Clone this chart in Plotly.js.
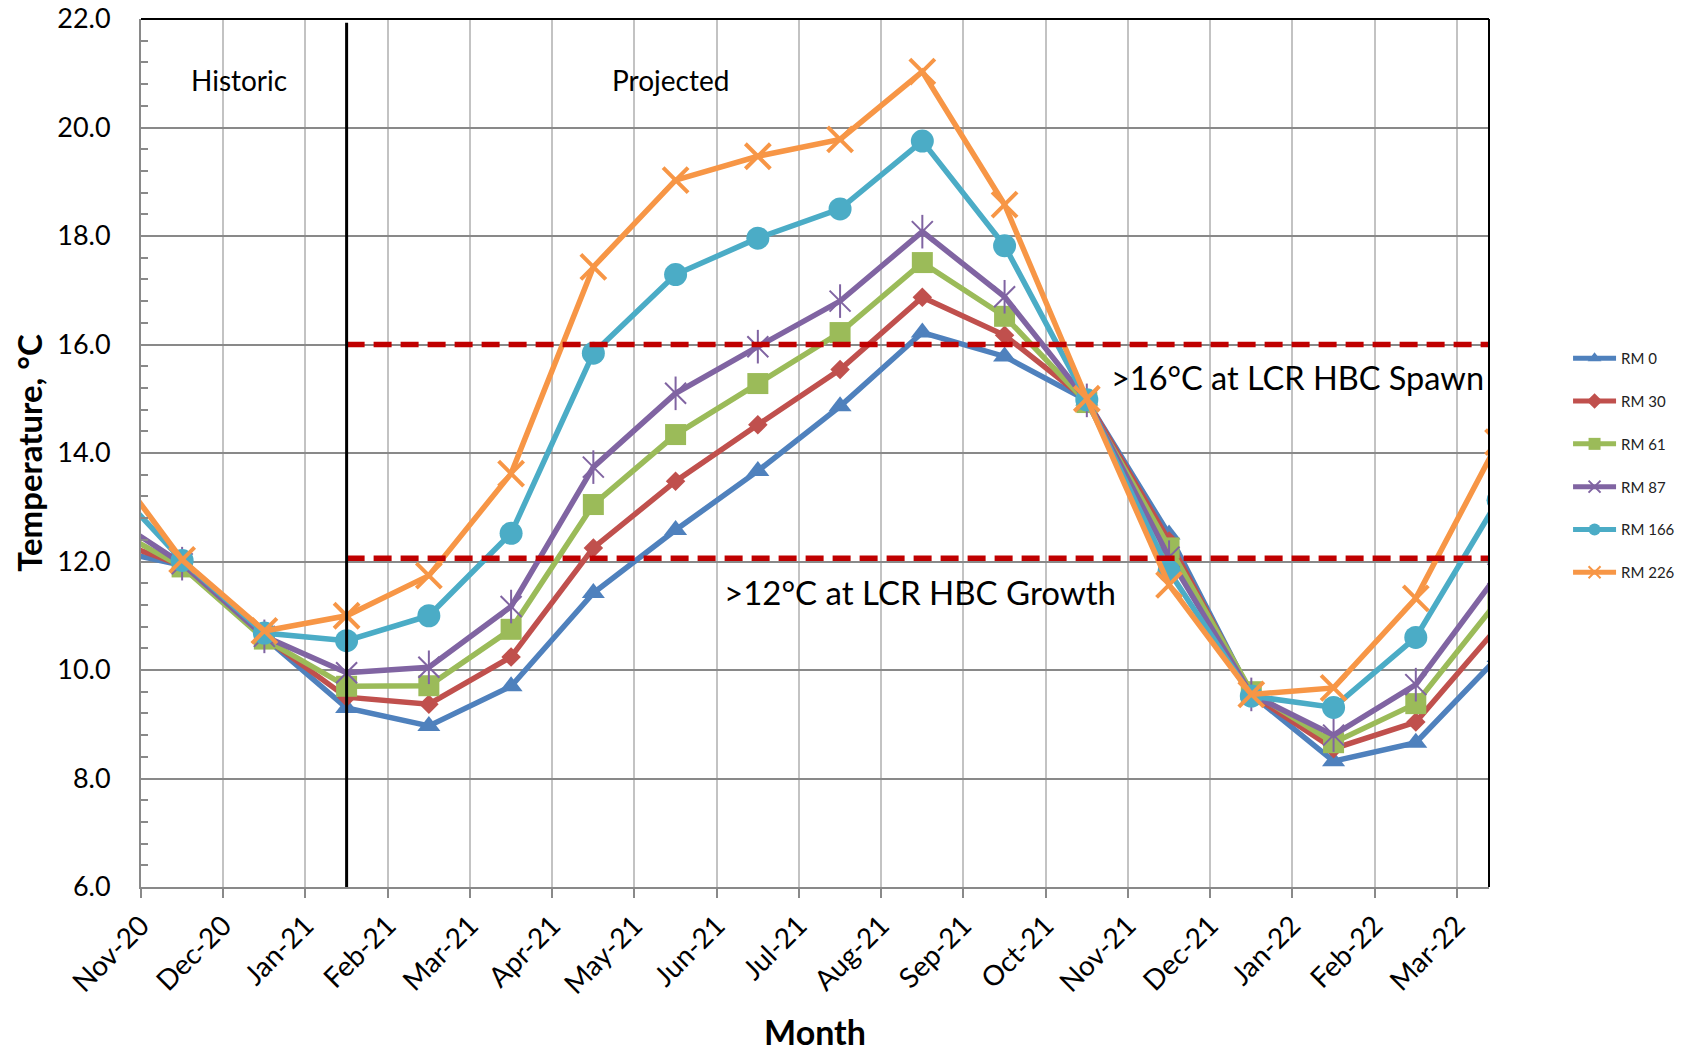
<!DOCTYPE html>
<html>
<head>
<meta charset="utf-8">
<script src="https://cdn.plot.ly/plotly-3.0.1.min.js"></script>
<style>html,body{margin:0;padding:0;background:#fff;}#chart{width:1683px;height:1052px;}</style>
</head>
<body>
<div id="chart"></div>
<script>
// Axis tick labels (month starts)
const tickMonths = ['Nov-20','Dec-20','Jan-21','Feb-21','Mar-21','Apr-21','May-21','Jun-21','Jul-21','Aug-21','Sep-21','Oct-21','Nov-21','Dec-21','Jan-22','Feb-22','Mar-22'];
// Mid-month samples
const sampleMonths = ['Oct-20','Nov-20','Dec-20','Jan-21','Feb-21','Mar-21','Apr-21','May-21','Jun-21','Jul-21','Aug-21','Sep-21','Oct-21','Nov-21','Dec-21','Jan-22','Feb-22','Mar-22'];

const rm0   = [12.26,11.93,10.60, 9.30, 8.97, 9.70,11.42,12.58,13.67,14.86,16.22,15.78,14.97,12.50, 9.55, 8.32, 8.66,10.24];
const rm30  = [12.47,11.93,10.60, 9.50, 9.37,10.24,12.25,13.48,14.52,15.54,16.87,16.17,14.97,12.38, 9.55, 8.55, 9.04,10.80];
const rm61  = [12.74,11.90,10.57, 9.70, 9.71,10.75,13.05,14.34,15.28,16.22,17.51,16.52,14.93,12.25, 9.60, 8.66, 9.38,11.28];
const rm87  = [12.95,11.96,10.62, 9.95,10.05,11.17,13.74,15.10,15.96,16.80,18.08,16.88,14.97,12.08, 9.55, 8.80, 9.73,11.77];
const rm166 = [13.65,12.02,10.68,10.54,11.00,12.52,15.84,17.29,17.96,18.50,19.75,17.82,14.98,11.82, 9.52, 9.31,10.60,13.13];
const rm226 = [14.08,12.03,10.72,11.00,11.74,13.62,17.43,19.03,19.47,19.78,21.03,18.58,15.00,11.57, 9.55, 9.67,11.32,14.20];

const spawnTemp = 16.0;
const growthTemp = 12.06;
const splitMonth = 'Jan-21';   // historic / projected boundary (mid-month)

// positions: tick i at month start i; samples sit mid-month
const tickPos = tickMonths.map((m, i) => i);
const xs = sampleMonths.map((m, i) => i - 0.5);
const splitX = sampleMonths.indexOf(splitMonth) - 0.5;
const xEnd = 16.39;

const FONT = 'Lato, "Open Sans", sans-serif';
const colors = {rm0:'#4F81BD', rm30:'#C0504D', rm61:'#9BBB59', rm87:'#8064A2', rm166:'#4BACC6', rm226:'#F79646'};

function tr(name, y, color, marker, group, extra) {
  return Object.assign({
    type: 'scatter', mode: 'lines+markers', name: name, x: xs, y: y,
    legendgroup: group,
    line: {color: color, width: 5.5},
    marker: marker
  }, extra || {});
}

const traces = [
  tr('RM 0', rm0, colors.rm0, {symbol:'triangle-up', size:20, color:colors.rm0, line:{width:0}}, 'g0'),
  tr('RM 30', rm30, colors.rm30, {symbol:'diamond', size:15, color:colors.rm30, line:{width:0}}, 'g1'),
  tr('RM 61', rm61, colors.rm61, {symbol:'square', size:21, color:colors.rm61, line:{width:0}}, 'g2'),
  tr('RM 87', rm87, colors.rm87, {symbol:'x-thin-open', size:21, color:colors.rm87, line:{width:2, color:colors.rm87}}, 'g3'),
  {type:'scatter', mode:'markers', x: xs, y: rm87, legendgroup:'g3', showlegend:false, hoverinfo:'skip',
   marker:{symbol:'line-ns-open', size:24, color:colors.rm87, line:{width:2, color:colors.rm87}}},
  tr('RM 166', rm166, colors.rm166, {symbol:'circle', size:23, color:colors.rm166, line:{width:0}}, 'g4'),
  tr('RM 226', rm226, colors.rm226, {symbol:'x-thin-open', size:25, color:colors.rm226, line:{width:4, color:colors.rm226}}, 'g5')
];

const layout = {
  width: 1683, height: 1052,
  margin: {l:141, r:194, t:19, b:165},
  paper_bgcolor: '#ffffff', plot_bgcolor: '#ffffff',
  font: {family: FONT, color: '#000'},
  showlegend: true,
  legend: {
    xref: 'container', yref: 'container',
    x: 0.9317, xanchor: 'left', y: 0.6749, yanchor: 'top',
    font: {family: FONT, size: 15, color: '#222'},
    itemwidth: 43, itemsizing: 'constant', tracegroupgap: 20.3,
    bgcolor: 'rgba(0,0,0,0)'
  },
  xaxis: {
    range: [0, xEnd], tickvals: tickPos, ticktext: tickMonths,
    tickangle: -45, ticks: 'outside', ticklen: 9, tickwidth: 2, tickcolor: '#898989',
    showgrid: true, gridcolor: '#C3C3C3', gridwidth: 2,
    showline: true, linecolor: '#898989', linewidth: 2, zeroline: false,
    tickfont: {family: FONT, size: 28, color: '#000'},
    title: {text: '<b>Month</b>', font: {family: FONT, size: 34, color: '#000'}, standoff: 28},
    automargin: false
  },
  yaxis: {
    range: [6, 22], tick0: 6, dtick: 2, tickformat: '.1f',
    ticks: 'inside', ticklen: 7, tickwidth: 2, tickcolor: '#898989',
    minor: {dtick: 0.4, ticks: 'inside', ticklen: 7, tickwidth: 2, tickcolor: '#898989', showgrid: false},
    showgrid: true, gridcolor: '#898989', gridwidth: 2,
    showline: true, linecolor: '#898989', linewidth: 2, zeroline: false,
    tickfont: {family: FONT, size: 27, color: '#000'},
    ticklabelstandoff: 23,
    title: {text: '<b>Temperature, °C</b>', font: {family: FONT, size: 33, color: '#000'}, standoff: 5},
    automargin: false
  },
  shapes: [
    {type:'line', xref:'x', yref:'y', x0: splitX, x1: xEnd, y0: spawnTemp, y1: spawnTemp,
     line:{color:'#C00000', width:5.5, dash:'18px,9px'}},
    {type:'line', xref:'x', yref:'y', x0: splitX, x1: xEnd, y0: growthTemp, y1: growthTemp,
     line:{color:'#C00000', width:5.5, dash:'18px,9px'}},
    {type:'line', xref:'x', yref:'y', x0: splitX, x1: splitX, y0: 6, y1: 21.93,
     line:{color:'#000000', width:3}},
    {type:'line', xref:'paper', yref:'paper', x0: 0, x1: 1, y0: 1, y1: 1, line:{color:'#000', width:2}},
    {type:'line', xref:'paper', yref:'paper', x0: 1, x1: 1, y0: 0, y1: 1, line:{color:'#000', width:2}}
  ],
  annotations: [
    {text:'Historic', xref:'x', yref:'y', x:1.19, y:20.87, showarrow:false, font:{family:FONT, size:28, color:'#000'}},
    {text:'Projected', xref:'x', yref:'y', x:6.44, y:20.87, showarrow:false, font:{family:FONT, size:28, color:'#000'}},
    {text:'>16°C at LCR HBC Spawn', xref:'paper', yref:'y', x:0.9978, xanchor:'right', y:15.40, showarrow:false, font:{family:FONT, size:32.5, color:'#000'}},
    {text:'>12°C at LCR HBC Growth', xref:'x', yref:'y', x:9.47, y:11.44, showarrow:false, font:{family:FONT, size:33, color:'#000'}}
  ]
};

Plotly.newPlot('chart', traces, layout, {displayModeBar:false, staticPlot:true});
</script>
</body>
</html>
